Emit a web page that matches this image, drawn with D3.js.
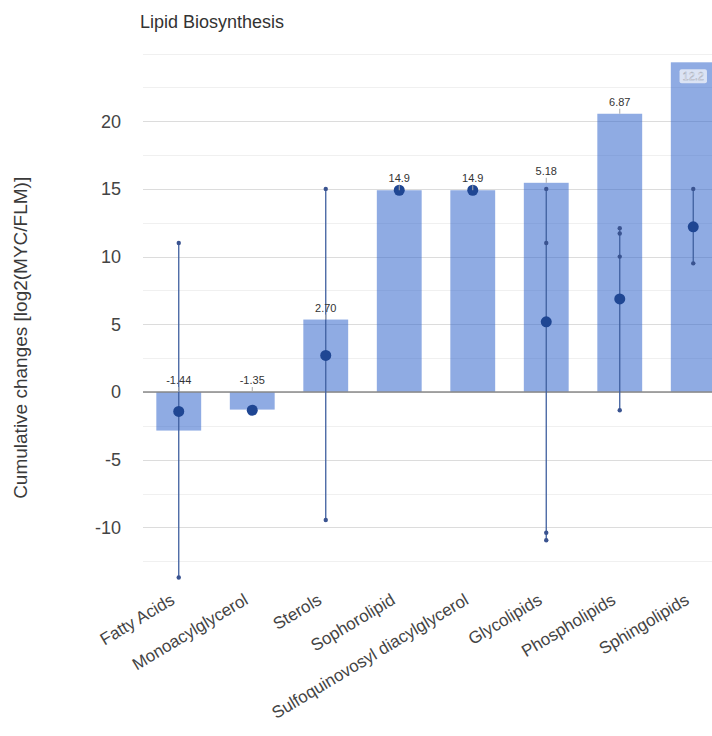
<!DOCTYPE html>
<html>
<head>
<meta charset="utf-8">
<script src="https://cdn.jsdelivr.net/npm/d3@7"></script>
<style>
  body { margin: 0; background: #fff; }
  svg { display: block; font-family: "Liberation Sans", Arial, sans-serif; }
</style>
</head>
<body>
<div id="chart"></div>
<script>
// values
var categories = ["Fatty Acids", "Monoacylglycerol", "Sterols", "Sophorolipid",
                  "Sulfoquinovosyl diacylglycerol", "Glycolipids", "Phospholipids", "Sphingolipids"];
var cumulative = [-2.85, -1.3, 5.35, 14.9, 14.9, 15.45, 20.55, 24.35];   // bars
var means = [-1.44, -1.35, 2.70, 14.9, 14.9, 5.18, 6.87, 12.2];          // big dots
var points = [                                                         // small dots
  [11.0, -13.7],
  [-1.35],
  [15.0, -9.45],
  [14.9],
  [14.9],
  [15.0, 11.0, -10.4, -10.95],
  [12.1, 11.7, 10.0, -1.35],
  [15.0, 9.5]
];
var yTicks = [-10, -5, 0, 5, 10, 15, 20];

var width = 712, height = 736;
var svg = d3.select("#chart").append("svg").attr("width", width).attr("height", height);

var x = d3.scaleBand().domain(categories).range([142, 730])
    .paddingInner(0.39).paddingOuter(0.195);
var y = d3.scaleLinear().domain([-14.5, 25]).range([588.3, 53.5]);

// grid
var grid = d3.range(-12.5, 25.01, 2.5);
svg.append("g").selectAll("line").data(grid).enter().append("line")
    .attr("x1", 143).attr("x2", 730)
    .attr("y1", function(d){ return Math.round(y(d)) + 0.5; })
    .attr("y2", function(d){ return Math.round(y(d)) + 0.5; })
    .attr("stroke", function(d){ return (d % 5 == 0 && d != 25) ? "#dcdcdc" : "#f0f0f0"; })
    .attr("stroke-width", 1);

// title
svg.append("text").attr("x", 140).attr("y", 28)
    .attr("font-size", 18).attr("fill", "#333").text("Lipid Biosynthesis");

// y axis labels
svg.append("g").selectAll("text").data(yTicks).enter().append("text")
    .attr("x", 121).attr("y", function(d){ return y(d); })
    .attr("dy", "0.36em").attr("text-anchor", "end")
    .attr("font-size", 18).attr("fill", "#444")
    .text(function(d){ return d; });

svg.append("text")
    .attr("transform", "translate(27," + y(4) + ") rotate(-90)")
    .attr("text-anchor", "middle").attr("font-size", 19).attr("fill", "#3a3a3a")
    .text("Cumulative changes [log2(MYC/FLM)]");

// bars
svg.append("g").selectAll("rect").data(categories).enter().append("rect")
    .attr("x", function(d){ return x(d); })
    .attr("width", x.bandwidth())
    .attr("y", function(d, i){ return y(Math.max(0, cumulative[i])); })
    .attr("height", function(d, i){ return Math.abs(y(cumulative[i]) - y(0)); })
    .attr("fill", "#3366cc").attr("fill-opacity", 0.55);

// zero line
svg.append("line").attr("x1", 143).attr("x2", 730)
    .attr("y1", y(0)).attr("y2", y(0))
    .attr("stroke", "#8a8a8a").attr("stroke-width", 1.5);

// intervals
var iv = svg.append("g");
categories.forEach(function(c, i){
  var cx = x(c) + x.bandwidth() / 2;
  var ext = d3.extent(points[i]);
  if (ext[1] > ext[0]) {
    iv.append("line").attr("x1", cx).attr("x2", cx)
      .attr("y1", y(ext[0])).attr("y2", y(ext[1]))
      .attr("stroke", "#3f5f9f").attr("stroke-width", 1.3);
  }
  if (points[i].length > 1) {
    points[i].forEach(function(v){
      iv.append("circle").attr("cx", cx).attr("cy", y(v)).attr("r", 2.2).attr("fill", "#3a5390");
    });
  }
  iv.append("circle").attr("cx", cx).attr("cy", y(means[i])).attr("r", 5.5).attr("fill", "#1f4693");
});

// annotations (plain hyphen for negatives, as in the original)
var fmt = function(v){ return d3.format(".3g")(v).replace("\u2212", "-"); };
var ann = svg.append("g");
categories.forEach(function(c, i){
  var cx = x(c) + x.bandwidth() / 2;
  var top = y(Math.max(0, cumulative[i]));
  if (top - 22 < y(25)) {
    // no room above: label sits inside the bar
    var t = ann.append("text").attr("x", cx).attr("y", top + 18)
      .attr("text-anchor", "middle").attr("font-size", 11).attr("fill", "#fff")
      .attr("stroke", "#9aa3b5").attr("stroke-width", 0.4).text(fmt(means[i]));
    var b = t.node().getBBox();
    ann.insert("rect", "text").attr("x", b.x - 3).attr("y", b.y - 1)
      .attr("width", b.width + 6).attr("height", b.height + 2).attr("rx", 2)
      .attr("fill", "#dbe3f4");
  } else {
    ann.append("line").attr("x1", cx).attr("x2", cx)
      .attr("y1", top).attr("y2", top - 5).attr("stroke", "#aaa");
    ann.append("text").attr("x", cx).attr("y", top - 8)
      .attr("text-anchor", "middle").attr("font-size", 11).attr("fill", "#333")
      .text(fmt(means[i]));
  }
});

// x labels
svg.append("g").selectAll("text").data(categories).enter().append("text")
    .attr("transform", function(d){ return "translate(" + (x(d) + x.bandwidth() / 2 - 3) + ",603) rotate(-31)"; })
    .attr("text-anchor", "end").attr("font-size", 17).attr("fill", "#444")
    .text(function(d){ return d; });
</script>
</body>
</html>
